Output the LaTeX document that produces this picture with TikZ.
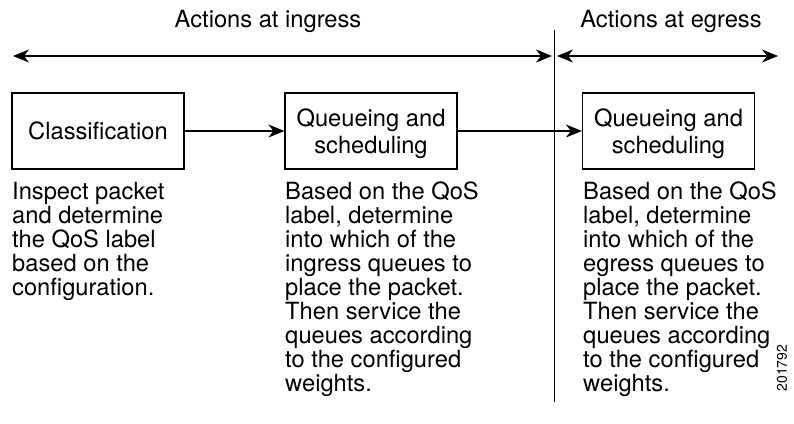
\documentclass[tikz,border=0pt]{standalone}
\usepackage{fontspec}
\setmainfont{TeX Gyre Heros}
\usetikzlibrary{arrows.meta}
\begin{document}
\begin{tikzpicture}[x=1pt,y=-1pt,
  txt/.style={font=\fontsize{23.7}{24}\selectfont, inner sep=0pt},
  col/.style={txt, align=left, anchor=north west},
  stagebox/.style={draw, line width=1.2pt, minimum width=172pt, minimum height=76pt, inner sep=0pt, align=center, text depth=0pt, font=\fontsize{23.7}{27}\selectfont},
  tip/.style={-{Stealth[length=16pt,width=13pt,inset=5pt]}},
  dbl/.style={{Stealth[length=16pt,width=13pt,inset=5pt]}-{Stealth[length=16pt,width=13pt,inset=5pt]}},
  ln/.style={line width=1.3pt}
]
\useasboundingbox (0,0) rectangle (794,423);
% titles
\node[txt] (tin) at (268,21) {Actions at ingress};
\node[txt] (teg) at (671,21) {Actions at egress};
% top arrows and divider
\coordinate (a1) at (13,56);
\coordinate (a2) at (552,56);
\coordinate (b1) at (557,56);
\coordinate (b2) at (778,56);
\coordinate (v1) at (554.5,30);
\coordinate (v2) at (554.5,402);
\draw[ln, dbl] (a1) -- (a2);
\draw[ln, dbl] (b1) -- (b2);
\draw[line width=1.2pt] (v1) -- (v2);
% boxes
\node[stagebox] (cls) at (98,131) {Classification};
\node[stagebox] (qin) at (371,131) {Queueing and\\scheduling};
\node[stagebox] (qeg) at (668.5,131) {Queueing and\\scheduling};
\draw[ln, tip] (cls) -- (qin);
\draw[ln, tip] (qin) -- (qeg);
% descriptions
\node[col] (d1) at (12,182) {Inspect packet\\and determine\\the QoS label\\based on the\\configuration.};
\node[col] (d2) at (285,182) {Based on the QoS\\label, determine\\into which of the\\ingress queues to\\place the packet.\\Then service the\\queues according\\to the configured\\weights.};
\node[col] (d3) at (583,182) {Based on the QoS\\label, determine\\into which of the\\egress queues to\\place the packet.\\Then service the\\queues according\\to the configured\\weights.};
% figure id
\node[font=\fontsize{14}{14}\selectfont, rotate=90, inner sep=0pt] (fid) at (782,368) {201792};
\end{tikzpicture}
\end{document}
